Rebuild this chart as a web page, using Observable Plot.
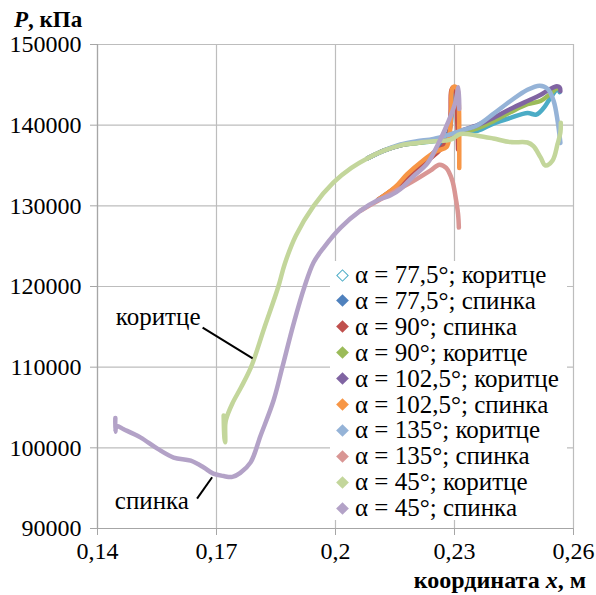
<!DOCTYPE html>
<html>
<head>
<meta charset="utf-8">
<script src="https://cdn.jsdelivr.net/npm/d3@7"></script>
<script src="https://cdn.jsdelivr.net/npm/@observablehq/plot@0.6"></script>
<style>
  html, body { margin: 0; padding: 0; background: #fff; }
  #chart { position: relative; width: 596px; height: 595px; }
  #chart svg text, #chart svg tspan { font-family: "Liberation Serif", "Times New Roman", serif !important; }
  #legend { position: absolute; left: 330px; top: 261px; width: 237px; height: 259px; background: #fff;
            font-family: "Liberation Serif", "Times New Roman", serif; font-size: 25px; color: #000; }
  #legend .row { position: absolute; left: 0; height: 26px; line-height: 26px; white-space: nowrap; }
  #legend .sw { position: absolute; left: 7.5px; top: 8.5px; width: 9px; height: 9px; transform: rotate(45deg); box-sizing: border-box; }
  #legend .lb { position: absolute; left: 25px; top: 0; }
</style>
</head>
<body>
<div id="chart"></div>
<script>
// ---- tick values ----
const xTicks = [0.14, 0.17, 0.2, 0.23, 0.26];
const yTicks = [90000, 100000, 110000, 120000, 130000, 140000, 150000];

// ---- series (x in m, P in kPa) ----
const a775k = [[0.2081,135900],[0.2125,136900],[0.2164,137500],[0.2205,137800],[0.2247,138000],[0.2285,138500],[0.2315,139000],[0.2358,139300],[0.2398,140200],[0.2441,140900],[0.2484,141500],[0.2505,141300],[0.2515,141600],[0.2526,142200],[0.2542,143400],[0.2560,144500],[0.2565,144100]];
const a775s = [[0.2106,130700],[0.2150,132200],[0.2190,133800],[0.2230,135800],[0.2265,137500],[0.2288,139500],[0.2295,143500],[0.2300,144500],[0.2305,143800],[0.2309,139500],[0.2310,137800]];
const a90s  = [[0.2106,130700],[0.2150,132200],[0.2190,133700],[0.2230,135500],[0.2265,137000],[0.2285,138500],[0.2290,141500],[0.2292,144300],[0.2297,144700],[0.2303,144200],[0.2307,140500],[0.2309,137000]];
const a90k  = [[0.2081,135900],[0.2125,136900],[0.2164,137500],[0.2205,137800],[0.2247,138100],[0.2285,138600],[0.2315,139100],[0.2358,139600],[0.2398,140500],[0.2441,141600],[0.2484,142600],[0.2517,143000],[0.2542,143900],[0.2560,144600],[0.2565,144400]];
const a1025k = [[0.2081,135900],[0.2125,136900],[0.2164,137500],[0.2205,137900],[0.2247,138200],[0.2285,138700],[0.2315,139300],[0.2358,140000],[0.2398,140900],[0.2441,142000],[0.2484,143000],[0.2515,143700],[0.2535,144300],[0.2555,144800],[0.2565,144700],[0.2567,144200]];
const a1025s = [[0.2106,130700],[0.2150,132300],[0.2180,133900],[0.2220,135600],[0.2255,136800],[0.2280,137300],[0.2288,139000],[0.2292,142000],[0.2294,144500],[0.2300,144800],[0.2307,144500],[0.2311,142500],[0.2312,138500],[0.2312,134700]];
const a135k = [[0.2081,135900],[0.2125,136900],[0.2164,137600],[0.2205,138000],[0.2247,138300],[0.2285,138800],[0.2315,139300],[0.2358,140000],[0.2398,141400],[0.2441,143000],[0.2484,144400],[0.2515,144900],[0.2535,144500],[0.2550,143000],[0.2560,140500],[0.2567,137800]];
const a135s = [[0.2063,129400],[0.2106,130600],[0.2150,131800],[0.2197,133100],[0.2240,134400],[0.2262,135100],[0.2279,134700],[0.2294,133200],[0.2303,131000],[0.2309,129000],[0.2311,127300]];
const a45k = [[0.1718,104000],[0.1720,101200],[0.1722,100700],[0.1722,102800],[0.1724,103500],[0.1740,105500],[0.1762,107500],[0.1787,110000],[0.1820,114800],[0.1856,120000],[0.1872,122800],[0.1900,126300],[0.1945,130000],[0.1995,132900],[0.2040,134700],[0.2081,135900],[0.2125,136900],[0.2164,137500],[0.2205,137800],[0.2247,138000],[0.2290,138200],[0.2315,138900],[0.2358,138700],[0.2398,138350],[0.2441,137900],[0.2484,137850],[0.2499,137400],[0.2517,136000],[0.2529,135000],[0.2547,135600],[0.2560,137700],[0.2567,139100],[0.2568,140300]];
const a45s = [[0.1445,103700],[0.1445,102000],[0.1448,102700],[0.1466,102300],[0.1508,101300],[0.1551,99900],[0.1592,98800],[0.1635,98400],[0.1667,97600],[0.1692,96800],[0.1718,96500],[0.1740,96400],[0.1760,96900],[0.1786,98200],[0.1811,101500],[0.1844,105900],[0.1866,110000],[0.1895,115500],[0.1922,120000],[0.1945,123000],[0.1970,124800],[0.2013,127300],[0.2063,129400],[0.2106,130700],[0.2139,131300],[0.2164,132100],[0.2195,133600],[0.2232,135300],[0.2260,137800],[0.2285,140500],[0.2302,142800],[0.2310,144700],[0.2312,142000]];

const seriesNames = ["α = 77,5°; коритце","α = 77,5°; спинка","α = 90°; спинка","α = 90°; коритце","α = 102,5°; коритце","α = 102,5°; спинка","α = 135°; коритце","α = 135°; спинка","α = 45°; коритце","α = 45°; спинка"];
const seriesData = [a775k, a775s, a90s, a90k, a1025k, a1025s, a135k, a135s, a45k, a45s];

// ---- annotations ----
const noteText = ["коритце", "спинка"];
const noteX = [0.1553, 0.1537];
const noteY = [116200, 93400];
const noteX1 = [0.1665, 0.1651];
const noteY1 = [114900, 93700];
const noteX2 = [0.1791, 0.1689];
const noteY2 = [111100, 96350];

// ---- styles ----
const colors = ["#4BACC6","#4F81BD","#C0504D","#9BBB59","#8064A2","#F79646","#95B3D7","#D99694","#C3D69B","#B3A2C7"];
const hollow = [true,false,false,false,false,false,false,false,false,false];

const fmt = d => String(d).replace(".", ",");
const FONT = '"Liberation Serif", "Times New Roman", serif';

const notes = noteText.map((t, i) => ({t, x: noteX[i], y: noteY[i], x1: noteX1[i], y1: noteY1[i], x2: noteX2[i], y2: noteY2[i]}));

const lineMarks = seriesData.map((d, i) => Plot.line(d, {
  x: p => p[0], y: p => p[1], stroke: colors[i], strokeWidth: 4.5,
  curve: "catmull-rom", strokeLinejoin: "round", strokeLinecap: "round"
}));

const chart = Plot.plot({
  width: 596,
  height: 595,
  marginLeft: 97,
  marginRight: 23,
  marginTop: 44,
  marginBottom: 67,
  style: { fontFamily: FONT, fontSize: "24px", color: "black", background: "white", overflow: "visible" },
  x: { domain: [0.14, 0.26], label: null },
  y: { domain: [90000, 150000], label: null },
  marks: [
    Plot.gridX(xTicks, { stroke: "#bdbdbd", strokeOpacity: 1, strokeWidth: 1.2 }),
    Plot.gridY(yTicks, { stroke: "#bdbdbd", strokeOpacity: 1, strokeWidth: 1.2 }),
    Plot.ruleX([0.14], { stroke: "#a6a6a6", strokeWidth: 1.2 }),
    Plot.ruleY([90000], { stroke: "#a6a6a6", strokeWidth: 1.2 }),
    Plot.axisX(xTicks, { tickFormat: fmt, tickSize: 7, tickPadding: 6, stroke: "#a6a6a6", fill: "black", fontSize: 24, label: null }),
    Plot.axisY(yTicks, { tickFormat: d => String(d), tickSize: 7, tickPadding: 9, stroke: "#a6a6a6", fill: "black", fontSize: 24, label: null }),
    ...lineMarks,
    Plot.link(notes, { x1: "x1", y1: "y1", x2: "x2", y2: "y2", stroke: "black", strokeWidth: 2 }),
    Plot.text(notes, { x: "x", y: "y", text: "t", fontSize: 25, fill: "black" })
  ]
});

const svg = d3.select(chart);

// Y axis title
const yt = svg.append("text").attr("x", 14).attr("y", 27).attr("text-anchor", "start")
  .attr("font-family", FONT).attr("font-size", 23).attr("font-weight", "bold").attr("fill", "black");
yt.append("tspan").attr("font-style", "italic").text("P");
yt.append("tspan").text(", кПа");

// X axis title
const xt = svg.append("text").attr("x", 586).attr("y", 588).attr("text-anchor", "end")
  .attr("font-family", FONT).attr("font-size", 24).attr("font-weight", "bold").attr("fill", "black");
xt.append("tspan").text("координата ");
xt.append("tspan").attr("font-style", "italic").text("x");
xt.append("tspan").text(", м");

const host = document.getElementById("chart");
host.appendChild(chart);

// Legend (HTML overlay)
const lg = document.createElement("div");
lg.id = "legend";
seriesNames.forEach((name, i) => {
  const row = document.createElement("div");
  row.className = "row";
  row.style.top = (1 + i * 25.9) + "px";
  const sw = document.createElement("div");
  sw.className = "sw";
  sw.style.background = hollow[i] ? "#fff" : colors[i];
  if (hollow[i]) sw.style.border = "1.3px solid " + colors[i];
  const lb = document.createElement("span");
  lb.className = "lb";
  lb.textContent = name;
  row.appendChild(sw);
  row.appendChild(lb);
  lg.appendChild(row);
});
host.appendChild(lg);
</script>
</body>
</html>
